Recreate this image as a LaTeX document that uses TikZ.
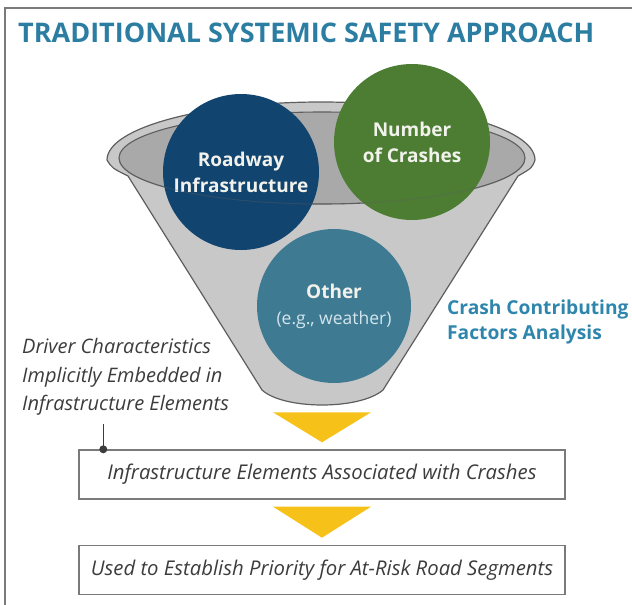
\documentclass[tikz,border=0pt]{standalone}
\usepackage{fontspec}
\setmainfont{Open Sans}
\usepackage{xcolor}
\usepackage{tikz}
\usetikzlibrary{positioning, calc}
\tikzset{
    factor/.style={circle, minimum size=156pt, inner sep=0pt, text=circletext, align=center, font=\bfseries\fontsize{19}{26}\selectfont},
    stepbox/.style={rectangle, minimum width=486pt, minimum height=49pt, text centered, draw=border, line width=1.4pt, fill=white, text=textgray, font=\itshape\fontsize{20.3}{22}\selectfont},
    flowtri/.style={fill=flowyellow},
    link/.style={line width=1.3pt, color=textgray}
}
\definecolor{titleblue}{HTML}{2B7DA2}
\definecolor{roadblue}{HTML}{11446F}
\definecolor{crashgreen}{HTML}{4C7D33}
\definecolor{othersteel}{HTML}{3F7A93}
\definecolor{factorblue}{HTML}{2F86AC}
\definecolor{circletext}{HTML}{F2F2EC}
\definecolor{softtext}{HTML}{D3E5ED}
\definecolor{funnelbg}{HTML}{C8C8C8}
\definecolor{funnelin}{HTML}{A9A9A9}
\definecolor{funneledge}{HTML}{5E5E5E}
\definecolor{flowyellow}{HTML}{F6C21A}
\definecolor{border}{HTML}{7A7A7A}
\definecolor{textgray}{HTML}{3C3C3C}

\begin{document}
\begin{tikzpicture}[x=1pt, y=-1pt, node distance=45pt]
    \useasboundingbox (0,0) rectangle (632,605);
    % Frame
    \draw[border, line width=1.6pt] (5,605) -- (5,8) -- (632,8);

    % Title
    \node (title) [anchor=base west, inner sep=0pt, text=titleblue, font=\bfseries\fontsize{27}{30}\selectfont] at (18,42) {TRADITIONAL SYSTEMIC SAFETY APPROACH};

    % Funnel
    \filldraw[fill=funnelbg, draw=funneledge, line width=1.2pt]
        (128,176) .. controls (112,168) .. (107,160)
        arc[start angle=180, end angle=360, x radius=214, y radius=58]
        .. controls (532,168) .. (518,176)
        -- (383,390) .. controls (360,410) and (284,410) .. (262,390) -- cycle;
    \filldraw[fill=funnelin, draw=funneledge, line width=1.1pt] (322,158) ellipse [x radius=203, y radius=46];

    % Factors
    \node (road) [factor, fill=roadblue] at (241,172) {Roadway\\Infrastructure};
    \node (crashes) [factor, fill=crashgreen] at (412,142) {Number\\of Crashes};
    \node (other) [factor, fill=othersteel, minimum size=154pt] at (334,306) {Other\\{\mdseries\fontsize{17.5}{20}\selectfont\color{softtext}(e.g., weather)}};
    \draw[funneledge, opacity=0.35, line width=1pt] (525,158) arc[start angle=0, end angle=180, x radius=203, y radius=46];

    % Labels
    \node (analysis) [anchor=west, inner sep=0pt, align=left, text=factorblue, font=\bfseries\fontsize{19.2}{25}\selectfont] at (447,322) {Crash Contributing\\Factors Analysis};
    \node (driver) [anchor=west, inner sep=0pt, align=left, text=textgray, font=\itshape\fontsize{20}{28.5}\selectfont] at (22,377) {Driver Characteristics\\Implicitly Embedded in\\Infrastructure Elements};

    % Steps
    \node (elements) [stepbox] at (322,474.5) {Infrastructure Elements Associated with Crashes};
    \node (priority) [stepbox, below=of elements] {Used to Establish Priority for At-Risk Road Segments};

    % Arrows
    \fill[flowtri] ($(elements.north)+(-49,-37)$) -- ($(elements.north)+(49,-37)$) -- ($(elements.north)+(0,-7)$) -- cycle;
    \fill[flowtri] ($(priority.north)+(-49,-38)$) -- ($(priority.north)+(49,-38)$) -- ($(priority.north)+(0,-7)$) -- cycle;
    \coordinate (tap) at ($(elements.north west)+(25,0)$);
    \draw[link] ($(tap |- driver.south)+(0,8)$) -- (tap);
    \fill[textgray] (tap) circle[radius=4];
\end{tikzpicture}
\end{document}
